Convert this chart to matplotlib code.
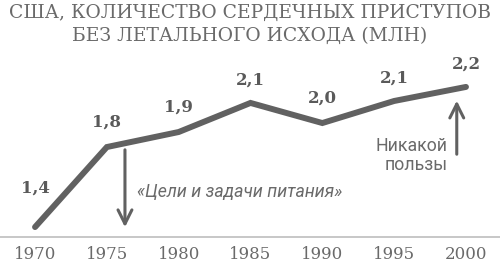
import matplotlib
matplotlib.use("Agg")
import matplotlib.pyplot as plt

years = [1970, 1975, 1980, 1985, 1990, 1995, 2000]
# heights as drawn in the picture (line is illustrative)
plot_vals = [1.40, 1.81, 1.887, 2.036, 1.933, 2.046, 2.118]
value_labels = ["1,4", "1,8", "1,9", "2,1", "2,0", "2,1", "2,2"]
title = "США, КОЛИЧЕСТВО СЕРДЕЧНЫХ ПРИСТУПОВ\nБЕЗ ЛЕТАЛЬНОГО ИСХОДА (МЛН)"

line_col = "#616161"
text_col = "#5a5a5a"

fig = plt.figure(figsize=(5.0, 2.62), dpi=100)
ax = fig.add_axes([0.0, 0.0954, 1.0, 0.6756])
ax.plot(years, plot_vals, color=line_col, linewidth=4.3,
        solid_joinstyle="miter", solid_capstyle="round")
ax.set_xlim(1967.56, 2002.37)
ax.set_ylim(1.349, 2.256)

label_offsets = [(0, 22), (0, 12), (0, 12), (0, 10), (0, 12), (0, 10), (0, 10)]
for x, y, lab, off in zip(years, plot_vals, value_labels, label_offsets):
    ax.annotate(lab, xy=(x, y), xytext=off, textcoords="offset points",
                ha="center", va="bottom", fontsize=12, fontweight="bold",
                family="DejaVu Serif", color=text_col)

# arrows
ax.annotate("", xy=(1976.26, 1.385), xytext=(1976.26, 1.81),
            arrowprops=dict(arrowstyle="->,head_length=1.0,head_width=0.5",
                            color=line_col, lw=2.2))
ax.annotate("", xy=(1999.36, 2.062), xytext=(1999.36, 1.759),
            arrowprops=dict(arrowstyle="->,head_length=1.0,head_width=0.5",
                            color=line_col, lw=2.2))

ax.text(1977.1, 1.578, "«Цели и задачи питания»", fontsize=12.8,
        style="italic", family="Roboto", color="#6a6a6a",
        ha="left", va="center")
ax.text(1998.7, 1.765, "Никакой\nпользы", fontsize=12.8, family="Roboto",
        color="#6a6a6a", ha="right", va="center",
        multialignment="right", linespacing=1.05)

for s in ["top", "right", "left"]:
    ax.spines[s].set_visible(False)
ax.spines["bottom"].set_color("#bdbdbd")
ax.spines["bottom"].set_linewidth(1.2)
ax.set_yticks([])
ax.set_xticks(years)
ax.tick_params(axis="x", length=0, pad=6.5, labelsize=12, labelcolor="#6a6a6a")
for t in ax.get_xticklabels():
    t.set_family("DejaVu Serif")

fig.text(0.5, 0.985, title, ha="center", va="top", fontsize=13.5,
         family="DejaVu Serif", color="#6a6a6a", linespacing=1.35)

fig.savefig("out.png", dpi=100)
